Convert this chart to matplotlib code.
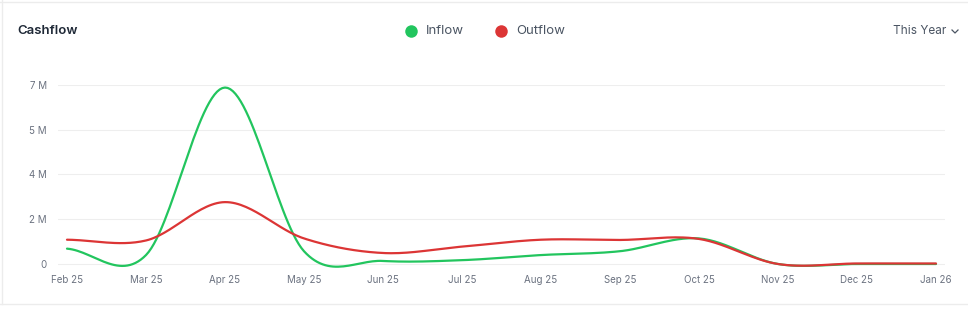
import numpy as np
import matplotlib
matplotlib.use('Agg')
import matplotlib.pyplot as plt
from matplotlib.lines import Line2D

plt.rcParams['font.family'] = ['Inter', 'DejaVu Sans']

months = ['Feb 25', 'Mar 25', 'Apr 25', 'May 25', 'Jun 25', 'Jul 25',
          'Aug 25', 'Sep 25', 'Oct 25', 'Nov 25', 'Dec 25', 'Jan 26']
inflow = [0.6, 0.35, 6.9, 0.5, 0.12, 0.15, 0.35, 0.5, 1.0, 0.0, 0.0, 0.0]
outflow = [0.95, 0.92, 2.42, 1.0, 0.43, 0.68, 0.95, 0.94, 0.98, 0.0, 0.02, 0.02]
yticks = [0, 1.75, 3.5, 5.25, 7]
ytick_labels = ['0', '2 M', '4 M', '5 M', '7 M']

GREEN = '#22c55e'
RED = '#dc3535'


def smooth(vals, n=30):
    # catmull-rom style spline through the monthly points
    y = np.asarray(vals, dtype=float)
    x = np.arange(len(y), dtype=float)
    m = np.gradient(y)
    xs, ys = [], []
    for i in range(len(y) - 1):
        t = np.linspace(0, 1, n, endpoint=False)
        h00 = 2 * t**3 - 3 * t**2 + 1
        h10 = t**3 - 2 * t**2 + t
        h01 = -2 * t**3 + 3 * t**2
        h11 = t**3 - t**2
        xs.append(x[i] + t)
        ys.append(h00 * y[i] + h10 * m[i] + h01 * y[i + 1] + h11 * m[i + 1])
    xs.append([x[-1]])
    ys.append([y[-1]])
    return np.concatenate(xs), np.concatenate(ys)


W, H = 968, 318
fig = plt.figure(figsize=(W / 100, H / 100), dpi=100)

# axes placed in pixel terms
left_px, right_px = 58, 945
top_px, zero_px = 85, 264
ppm = (zero_px - top_px) / 7.0
ymin = -0.25
bot_px = zero_px - ymin * ppm
ax = fig.add_axes([left_px / W, (H - bot_px) / H,
                   (right_px - left_px) / W, (bot_px - top_px) / H])

pad = (67 - left_px) / 79.0
ax.set_xlim(-pad, len(months) - 1 + pad)
ax.set_ylim(ymin, 7.0)

for vals, c in [(inflow, GREEN), (outflow, RED)]:
    xs, ys = smooth(vals)
    ax.plot(xs, ys, color=c, lw=1.6, solid_capstyle='round', zorder=3)

ax.set_yticks(yticks)
ax.set_yticklabels(ytick_labels)
ax.set_xticks(range(len(months)))
ax.set_xticklabels(months)
ax.tick_params(axis='both', length=0, labelsize=7, colors='#6b7280')
ax.tick_params(axis='y', pad=8)
ax.tick_params(axis='x', pad=3)
ax.grid(axis='y', color='#eeeeee', lw=0.8)
ax.set_axisbelow(True)
for s in ax.spines.values():
    s.set_visible(False)

# card borders
fig.add_artist(Line2D([0, 1], [1 - 1.5 / H, 1 - 1.5 / H], color='#ececec', lw=1))
fig.add_artist(Line2D([1.5 / W, 1.5 / W], [1 - 304 / H, 1], color='#ececec', lw=1))
fig.add_artist(Line2D([0, 1], [1 - 304 / H, 1 - 304 / H], color='#ececec', lw=1))

# header
fig.text(17 / W, 1 - 31 / H, 'Cashflow', fontsize=9.5, fontweight='semibold',
         color='#1f2937', va='center', ha='left')

for x0, label, c in [(411, 'Inflow', GREEN), (501, 'Outflow', RED)]:
    fig.add_artist(Line2D([x0 / W], [1 - 31 / H], marker='o', markersize=9,
                          color=c, markeredgewidth=0))
    fig.text((x0 + 15) / W, 1 - 31 / H, label, fontsize=9.5, color='#4b5563',
             va='center', ha='left')

fig.text(893 / W, 1 - 31 / H, 'This Year', fontsize=8.5, color='#4b5563',
         va='center', ha='left')
fig.add_artist(Line2D([952 / W, 955 / W, 958 / W],
                      [1 - 30 / H, 1 - 33 / H, 1 - 30 / H],
                      color='#4b5563', lw=0.9))

fig.savefig('out.png', dpi=100)
